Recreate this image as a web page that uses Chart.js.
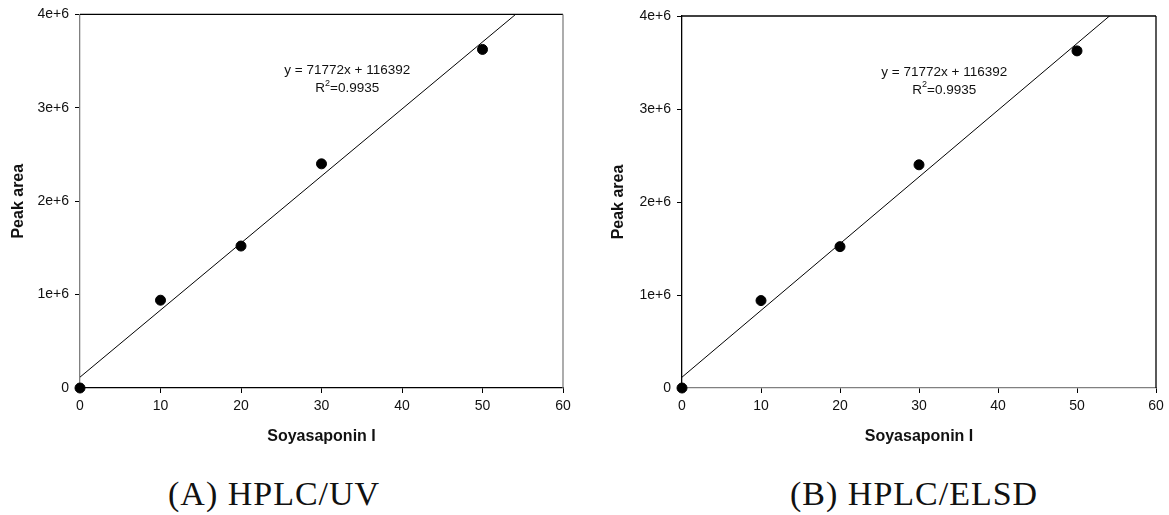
<!DOCTYPE html>
<html>
<head>
<meta charset="utf-8">
<script src="https://cdn.jsdelivr.net/npm/chart.js@4/dist/chart.umd.min.js"></script>
<style>
  html, body { margin: 0; padding: 0; background: #fff; }
  body { width: 1169px; height: 515px; position: relative; overflow: hidden; }
  canvas { position: absolute; top: 0; }
  #chartUV { left: 0; }
  #chartELSD { left: 600px; }
  .legenda { position: absolute; top: 475px; font-family: "Liberation Serif", serif; font-size: 34px; color: #111; letter-spacing: 1px; white-space: pre; }
</style>
</head>
<body>
<canvas id="chartUV" width="600" height="460"></canvas>
<canvas id="chartELSD" width="569" height="460"></canvas>
<div class="legenda" style="left:168px">(A) HPLC/UV</div>
<div class="legenda" style="left:790px">(B) HPLC/ELSD</div>
<script>
// Dados
const concentracao = [0, 10, 20, 30, 50];
const areaUV   = [0, 940000, 1520000, 2400000, 3625000];
const areaELSD = [0, 940000, 1520000, 2400000, 3625000];
const inclinacao = 71772;
const intercepto = 116392;
const xTicks = [0, 10, 20, 30, 40, 50, 60];
const yTicks = [0, 1000000, 2000000, 3000000, 4000000];
const yLabels = ['0', '1e+6', '2e+6', '3e+6', '4e+6'];
const equacao = 'y = 71772x + 116392';
const r2 = '0.9935';

// Moldura de cima/direita + texto da equacao
const molduraPlugin = {
  id: 'moldura',
  afterDatasetsDraw(chart, args, o) {
    const { ctx, chartArea: a, scales: { x, y } } = chart;
    ctx.save();
    ctx.lineWidth = 1.3;
    ctx.strokeStyle = '#000';
    ctx.beginPath(); ctx.moveTo(a.left, a.top); ctx.lineTo(a.right, a.top); ctx.stroke();
    ctx.strokeStyle = o.corDireita;
    ctx.beginPath(); ctx.moveTo(a.right, a.top); ctx.lineTo(a.right, a.bottom); ctx.stroke();

    const px = x.getPixelForValue(o.eqX);
    const py = y.getPixelForValue(o.eqY);
    ctx.fillStyle = '#111';
    ctx.textBaseline = 'middle';
    ctx.textAlign = 'center';
    ctx.font = '13.5px "Liberation Sans", Arial, sans-serif';
    ctx.fillText(equacao, px, py);

    const resto = '=' + r2;
    const wR = ctx.measureText('R').width;
    const wResto = ctx.measureText(resto).width;
    ctx.font = '9px "Liberation Sans", Arial, sans-serif';
    const w2 = ctx.measureText('2').width;
    let sx = px - (wR + w2 + wResto) / 2;
    const sy = py + 18;
    ctx.textAlign = 'left';
    ctx.font = '13.5px "Liberation Sans", Arial, sans-serif';
    ctx.fillText('R', sx, sy);
    ctx.font = '9px "Liberation Sans", Arial, sans-serif';
    ctx.fillText('2', sx + wR, sy - 5);
    ctx.font = '13.5px "Liberation Sans", Arial, sans-serif';
    ctx.fillText(resto, sx + wR + w2, sy);
    ctx.restore();
  }
};

function criarGrafico(id, areas, cfg) {
  const pontos = concentracao.map((c, i) => ({ x: c, y: areas[i] }));
  const reta = [0, 60].map((c) => ({ x: c, y: inclinacao * c + intercepto }));
  const fonteTick = { family: '"Liberation Sans", Arial, sans-serif', size: 14 };
  const fonteTitulo = { family: '"Liberation Sans", Arial, sans-serif', size: 16, weight: 'bold' };

  return new Chart(document.getElementById(id), {
    type: 'scatter',
    data: {
      datasets: [
        { data: reta, showLine: true, borderColor: '#000', borderWidth: 1, pointRadius: 0, order: 2 },
        { data: pontos, backgroundColor: '#000', borderColor: '#000', pointRadius: 5, clip: false, order: 1 }
      ]
    },
    options: {
      responsive: false,
      animation: false,
      layout: { padding: { top: cfg.topo, right: cfg.direita, bottom: 10, left: 0 } },
      plugins: {
        legend: { display: false },
        tooltip: { enabled: false },
        moldura: { eqX: 33.2, eqY: 3400000, corDireita: cfg.corDireita }
      },
      scales: {
        x: {
          type: 'linear', min: 0, max: 60,
          afterBuildTicks: (s) => { s.ticks = xTicks.map((v) => ({ value: v })); },
          afterFit: (s) => { s.height = 62; },
          grid: { drawOnChartArea: false, drawTicks: true, tickLength: 5, color: '#000', lineWidth: 1 },
          border: { display: true, color: cfg.corBaixo, width: 1.3 },
          ticks: { color: '#111', font: fonteTick, padding: 5, maxRotation: 0 },
          title: { display: true, text: 'Soyasaponin I', color: '#111', font: fonteTitulo, padding: { top: 4, bottom: 4 } }
        },
        y: {
          type: 'linear', min: 0, max: 4000000,
          afterBuildTicks: (s) => { s.ticks = yTicks.map((v) => ({ value: v })); },
          afterFit: (s) => { s.width = cfg.larguraY; },
          grid: { drawOnChartArea: false, drawTicks: true, tickLength: 5, color: '#000', lineWidth: 1 },
          border: { display: true, color: cfg.corEsquerda, width: 1.3 },
          ticks: { color: '#111', font: fonteTick, padding: 6, callback: (v) => yLabels[yTicks.indexOf(v)] },
          title: { display: true, text: 'Peak area', color: '#111', font: fonteTitulo, padding: { top: 9, bottom: 4 } }
        }
      }
    },
    plugins: [molduraPlugin]
  });
}

criarGrafico('chartUV', areaUV, { larguraY: 80, topo: 14, direita: 37, corEsquerda: '#808080', corBaixo: '#000', corDireita: '#808080' });
criarGrafico('chartELSD', areaELSD, { larguraY: 82, topo: 16, direita: 13, corEsquerda: '#000', corBaixo: '#808080', corDireita: '#000' });
</script>
</body>
</html>
